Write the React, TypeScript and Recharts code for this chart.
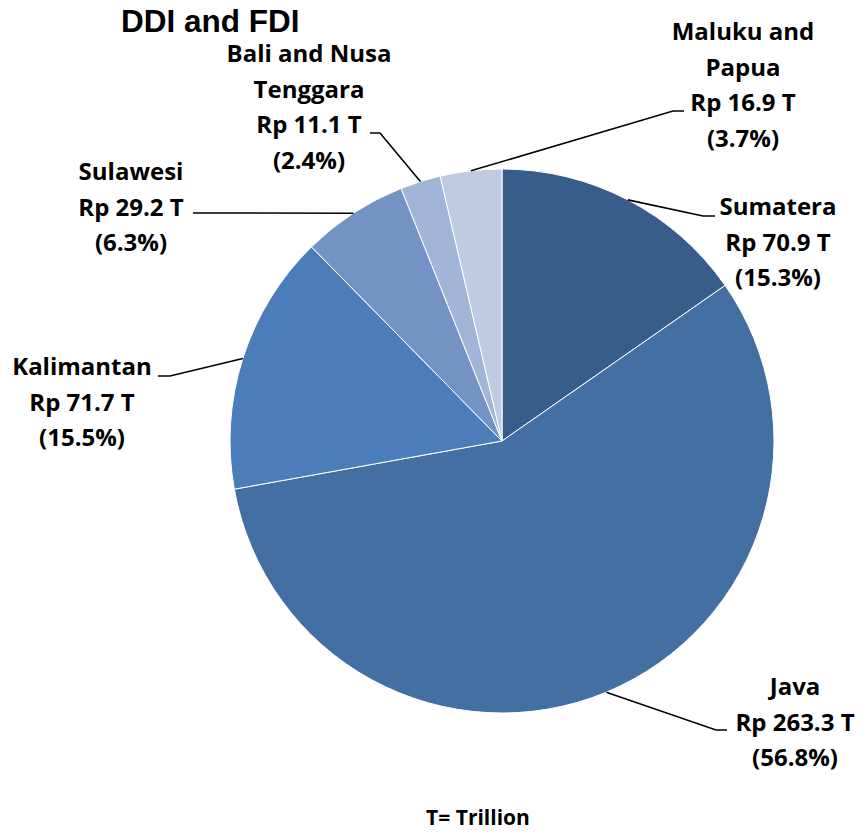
import { PieChart, Pie, Cell } from 'recharts';

const regions = ['Sumatera', 'Java', 'Kalimantan', 'Sulawesi', 'Bali and Nusa Tenggara', 'Maluku and Papua'];
const nameLines = [['Sumatera'], ['Java'], ['Kalimantan'], ['Sulawesi'], ['Bali and Nusa', 'Tenggara'], ['Maluku and', 'Papua']];
const investment = [70.9, 263.3, 71.7, 29.2, 11.1, 16.9];
const shares = [15.3, 56.8, 15.5, 6.3, 2.4, 3.7];
const colors = ['#385D8A', '#436FA3', '#4A7DBA', '#7393C5', '#A3B5D7', '#C0CBE1'];

// where each label block sits, and the elbow of its leader line
const labelLayout = [
  { x: 778, y: 215, elbow: [703, 216], end: [715, 216] },
  { x: 795, y: 695, elbow: [716, 730], end: [727, 730] },
  { x: 82, y: 375, elbow: [170, 376], end: [158, 376] },
  { x: 131, y: 180, elbow: [193, 213], end: [193, 213] },
  { x: 309, y: 62, elbow: [380, 133], end: [370, 133] },
  { x: 743, y: 40, elbow: [673, 111], end: [684, 111] },
];

const data = regions.map((name, i) => ({ name, value: investment[i], share: shares[i] }));

const RAD = Math.PI / 180;
const FONT = '"Open Sans", sans-serif';

function renderLabel(props: any) {
  const { cx, cy, midAngle, outerRadius, index } = props;
  const lay = labelLayout[index];
  const ax = cx + outerRadius * Math.cos(-midAngle * RAD);
  const ay = cy + outerRadius * Math.sin(-midAngle * RAD);
  const lines = [...nameLines[index], `Rp ${investment[index].toFixed(1)} T`, `(${shares[index].toFixed(1)}%)`];
  return (
    <g key={`lbl-${index}`}>
      <polyline
        points={`${ax},${ay} ${lay.elbow[0]},${lay.elbow[1]} ${lay.end[0]},${lay.end[1]}`}
        fill="none"
        stroke="#000"
        strokeWidth={1.6}
      />
      <text x={lay.x} y={lay.y} textAnchor="middle" fontFamily={FONT} fontWeight={700} fontSize={24} fill="#000">
        {lines.map((t, k) => (
          <tspan key={k} x={lay.x} y={lay.y + k * 35.5}>{t}</tspan>
        ))}
      </text>
    </g>
  );
}

export default function App() {
  return (
    <div style={{ position: 'absolute', left: 0, top: 0, width: 866, height: 835, background: '#fff' }}>
      <PieChart width={866} height={835} margin={{ top: 0, right: 0, bottom: 0, left: 0 }}>
        <text x={121} y={32} fontFamily='"Liberation Sans", Arial, sans-serif' fontWeight={700} fontSize={31.5} fill="#000">
          DDI and FDI
        </text>
        <Pie
          data={data}
          dataKey="value"
          nameKey="name"
          cx={502}
          cy={441}
          outerRadius={272}
          startAngle={90}
          endAngle={-270}
          stroke="#fff"
          strokeWidth={1}
          label={renderLabel}
          labelLine={false}
          isAnimationActive={false}
        >
          {data.map((d, i) => (
            <Cell key={d.name} fill={colors[i]} />
          ))}
        </Pie>
        <text x={478} y={825} textAnchor="middle" fontFamily={FONT} fontWeight={700} fontSize={21} fill="#000">
          T= Trillion
        </text>
      </PieChart>
    </div>
  );
}
